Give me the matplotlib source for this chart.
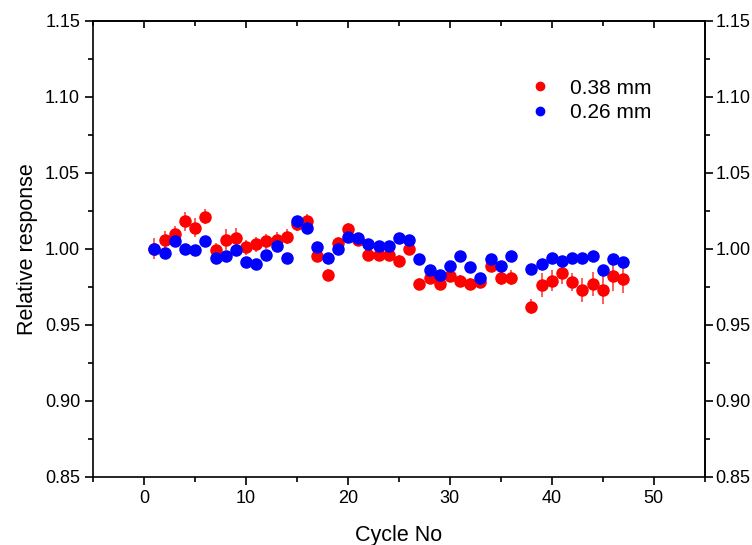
import matplotlib
matplotlib.use('Agg')
import matplotlib.pyplot as plt
import matplotlib.lines as mlines
import numpy as np

plt.rcParams['font.family'] = ['Liberation Sans', 'DejaVu Sans']

# cycle numbers (no measurement at cycle 37)
cycles = [1, 2, 3, 4, 5, 6, 7, 8, 9, 10, 11, 12, 13, 14, 15, 16, 17, 18, 19, 20,
          21, 22, 23, 24, 25, 26, 27, 28, 29, 30, 31, 32, 33, 34, 35, 36,
          38, 39, 40, 41, 42, 43, 44, 45, 46, 47]

# 0.38 mm
resp_038 = [1.000, 1.006, 1.010, 1.018, 1.014, 1.021, 0.999, 1.006, 1.007, 1.001,
            1.003, 1.005, 1.006, 1.008, 1.016, 1.018, 0.995, 0.983, 1.004, 1.013,
            1.006, 0.996, 0.996, 0.996, 0.992, 1.000, 0.977, 0.981, 0.977, 0.982,
            0.979, 0.977, 0.978, 0.989, 0.981, 0.981,
            0.962, 0.976, 0.979, 0.984, 0.978, 0.973, 0.977, 0.973, 0.982, 0.980]
err_038 = [0.007, 0.006, 0.005, 0.006, 0.006, 0.005, 0.005, 0.007, 0.007, 0.005,
           0.005, 0.005, 0.005, 0.005, 0.004, 0.005, 0.004, 0.004, 0.004, 0.004,
           0.004, 0.004, 0.004, 0.004, 0.004, 0.004, 0.004, 0.004, 0.004, 0.004,
           0.004, 0.004, 0.004, 0.004, 0.005, 0.005,
           0.005, 0.008, 0.007, 0.007, 0.006, 0.008, 0.008, 0.009, 0.010, 0.009]

# 0.26 mm
resp_026 = [1.000, 0.997, 1.005, 1.000, 0.999, 1.005, 0.994, 0.995, 0.999, 0.991,
            0.990, 0.996, 1.002, 0.994, 1.018, 1.014, 1.001, 0.994, 1.000, 1.008,
            1.007, 1.003, 1.002, 1.002, 1.007, 1.006, 0.993, 0.986, 0.983, 0.989,
            0.995, 0.988, 0.981, 0.993, 0.989, 0.995,
            0.987, 0.990, 0.994, 0.992, 0.994, 0.994, 0.995, 0.986, 0.993, 0.991]
err_026 = [0.002] * len(resp_026)

fig = plt.figure(figsize=(7.52, 5.45), dpi=100)
ax = fig.add_axes([0.124, 0.125, 0.813, 0.837])

ax.errorbar(cycles, resp_038, yerr=err_038, fmt='o', color='#ff0000', ecolor='#ff5050',
            elinewidth=1.3, capsize=0, markersize=8, zorder=2)
ax.errorbar(cycles, resp_026, yerr=err_026, fmt='o', color='#0000ff', ecolor='#5050ff',
            elinewidth=1.3, capsize=0, markersize=8, zorder=3)

ax.set_xlim(-5, 55)
ax.set_ylim(0.85, 1.15)
xt = [0, 10, 20, 30, 40, 50]
xm = np.arange(-5, 56, 10)
yt = np.arange(0.85, 1.151, 0.05)
ym = np.arange(0.875, 1.15, 0.05)
ylabels = ['%.2f' % v for v in yt]
ax.set_xticks(xt)
ax.set_xticks(xm, minor=True)
ax.set_yticks(yt)
ax.set_yticks(ym, minor=True)
ax.set_yticklabels(ylabels)

for s in ax.spines.values():
    s.set_linewidth(1.2)
ax.tick_params(which='both', direction='out', width=1.2, labelsize=13,
               left=True, right=False, top=False)
ax.tick_params(which='major', length=6)
ax.tick_params(which='minor', length=3.5)

# right axis: mirrored labels
right = ax.secondary_yaxis('right')
right.set_yticks(yt)
right.set_yticks(ym, minor=True)
right.set_yticklabels(ylabels)
right.tick_params(which='both', direction='out', width=1.2, labelsize=13, pad=2)
right.tick_params(which='major', length=6)
right.tick_params(which='minor', length=3.5)
right.spines['right'].set_linewidth(1.2)

# top axis: inward ticks, no labels
top = ax.secondary_xaxis('top')
top.set_xticks(xt)
top.set_xticks(xm, minor=True)
top.tick_params(which='both', direction='in', width=1.2, labeltop=False)
top.tick_params(which='major', length=5)
top.tick_params(which='minor', length=3.5)
top.spines['top'].set_linewidth(1.2)

ax.set_xlabel('Cycle No', fontsize=15.5, labelpad=13)
ax.set_ylabel('Relative response', fontsize=15.5, labelpad=5)

h1 = mlines.Line2D([], [], color='#ff0000', marker='o', linestyle='none', markersize=6)
h2 = mlines.Line2D([], [], color='#0000ff', marker='o', linestyle='none', markersize=6)
ax.legend([h1, h2], ['0.38 mm', '0.26 mm'], loc='upper left', bbox_to_anchor=(0.705, 0.873),
          frameon=False, fontsize=15, handletextpad=0.7, labelspacing=0.25,
          handlelength=1.5, borderpad=0, borderaxespad=0)

fig.savefig('out.png', dpi=100)
